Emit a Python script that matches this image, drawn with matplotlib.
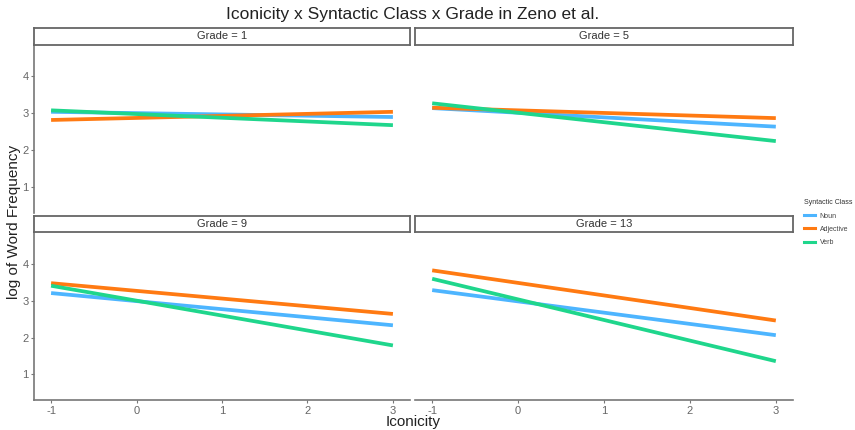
import matplotlib
matplotlib.use("Agg")
import matplotlib.pyplot as plt
from matplotlib.lines import Line2D

plt.rcParams['font.family'] = ['Liberation Sans', 'DejaVu Sans']
plt.rcParams['axes.unicode_minus'] = False

grades = ["Grade = 1", "Grade = 5", "Grade = 9", "Grade = 13"]
classes = ["Noun", "Adjective", "Verb"]
colors = ["#4db5ff", "#ff7a12", "#1fd68c"]
x_ends = [-1, 3]
# values at iconicity -1 and 3 per grade per class
noun = [[3.03, 2.89], [3.13, 2.63], [3.22, 2.34], [3.30, 2.07]]
adjective = [[2.81, 3.03], [3.14, 2.86], [3.49, 2.65], [3.84, 2.47]]
verb = [[3.07, 2.67], [3.26, 2.24], [3.42, 1.79], [3.61, 1.36]]
series = [noun, adjective, verb]
xticks = [-1, 0, 1, 2, 3]
yticks = [1, 2, 3, 4]

W, H = 855, 430
fig = plt.figure(figsize=(W / 100, H / 100), dpi=100)

def px(x0, y0, x1, y1):
    return [x0 / W, 1 - y1 / H, (x1 - x0) / W, (y1 - y0) / H]

panels = [(34, 44, 410, 213, 28), (415, 44, 793, 213, 28),
          (34, 233, 410, 400, 216), (415, 233, 793, 400, 216)]
gray = "#666666"
for i, (x0, y0, x1, y1, sy) in enumerate(panels):
    ax = fig.add_axes(px(x0, y0, x1, y1))
    for s, c in zip(series, colors):
        ax.plot(x_ends, s[i], color=c, lw=2.7, solid_capstyle='butt')
    ax.set_xlim(-1.2, 3.2)
    ax.set_ylim(0.3, 4.86)
    ax.set_xticks(xticks)
    ax.set_yticks(yticks)
    for sp in ['top', 'right']:
        ax.spines[sp].set_visible(False)
    left = i in (0, 2)
    bottom = i in (2, 3)
    ax.spines['left'].set_visible(left)
    ax.spines['bottom'].set_visible(bottom)
    for sp in ['left', 'bottom']:
        ax.spines[sp].set_color("#777777")
        ax.spines[sp].set_linewidth(1.2)
    ax.tick_params(axis='x', bottom=bottom, labelbottom=bottom, colors="#777777",
                   labelcolor=gray, labelsize=8, length=2.5, pad=1.5)
    ax.tick_params(axis='y', left=left, labelleft=left, colors="#777777",
                   labelcolor=gray, labelsize=8, length=2.5, pad=1.5)
    # strip
    sax = fig.add_axes(px(x0, sy, x1, sy + 16.5))
    sax.set_xticks([]); sax.set_yticks([])
    for sp in sax.spines.values():
        sp.set_color("#666666"); sp.set_linewidth(1.3)
    sax.text(0.5, 0.5, grades[i], ha='center', va='center', fontsize=8, color="#333333",
             transform=sax.transAxes)

fig.text(413 / W, 1 - 14 / H, "Iconicity x Syntactic Class x Grade in Zeno et al.",
         ha='center', va='center', fontsize=12.5, color="#222222")
fig.text(14 / W, 1 - 222 / H, "log of Word Frequency", rotation=90,
         ha='center', va='center', fontsize=11, color="#222222")
fig.text(413 / W, 1 - 422 / H, "Iconicity", ha='center', va='center',
         fontsize=11, color="#222222")

handles = [Line2D([0], [0], color=c, lw=2.2) for c in colors]
leg = fig.legend(handles, classes, title="Syntactic Class", loc='upper left',
                 bbox_to_anchor=(798 / W, 1 - 193 / H), frameon=False,
                 fontsize=5, title_fontsize=5, handlelength=1.6,
                 handletextpad=0.6, labelspacing=0.9)
leg._legend_box.align = "left"
for t in leg.get_texts():
    t.set_color("#444444")
leg.get_title().set_color("#333333")

fig.savefig("out.png", dpi=100)
